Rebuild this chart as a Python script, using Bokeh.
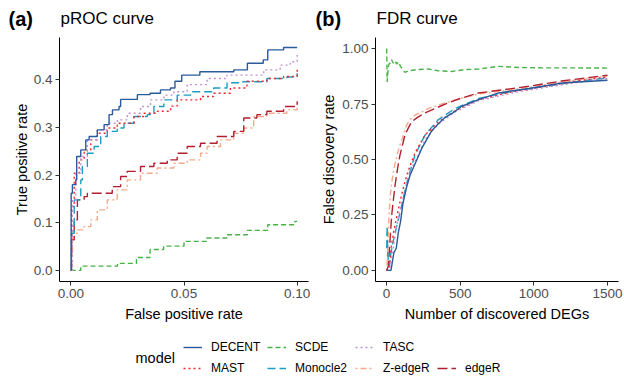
from bokeh.plotting import figure
from bokeh.layouts import column, row
from bokeh.models import (Range1d, FixedTicker, NumeralTickFormatter, Label, Legend, LegendItem)
from bokeh.embed import file_html
from bokeh.resources import INLINE

# ---------------- data ----------------
models = ["DECENT", "MAST", "SCDE", "Monocle2", "TASC", "Z-edgeR", "edgeR"]
colors = {"DECENT": "#2B5A9B", "MAST": "#F0262E", "SCDE": "#46B446", "Monocle2": "#1C9CC2",
          "TASC": "#C191D4", "Z-edgeR": "#F6A98A", "edgeR": "#B21F2F"}
dashes = {"DECENT": "solid", "MAST": "2 3", "SCDE": "5 3", "Monocle2": "8 4",
          "TASC": "2 3", "Z-edgeR": "2 3 6 3", "edgeR": "10 4"}
panel_tags = ["(a)", "(b)"]
panel_titles = ["pROC curve", "FDR curve"]

# pROC curve (false positive rate, true positive rate)
roc_fpr_DECENT = [0, 0.00015, 0.0007, 0.0022, 0.0026, 0.0044, 0.0066, 0.0081, 0.0117, 0.0147, 0.0169, 0.0184,
                  0.0213, 0.022, 0.0279, 0.0294, 0.035, 0.0396, 0.044, 0.046, 0.049, 0.057, 0.072, 0.078, 0.085,
                  0.087, 0.094, 0.1]
roc_tpr_DECENT = [0, 0.162, 0.18, 0.19, 0.239, 0.253, 0.274, 0.281, 0.295, 0.306, 0.327, 0.337,
                  0.344, 0.359, 0.359, 0.369, 0.372, 0.379, 0.383, 0.397, 0.41, 0.417, 0.421, 0.435, 0.442,
                  0.463, 0.468, 0.468]
roc_fpr_TASC = [0, 0.0007, 0.0022, 0.0044, 0.0073, 0.0117, 0.0161, 0.0206, 0.025, 0.0308, 0.0352, 0.0411,
                0.0455, 0.0514, 0.0602, 0.0690, 0.0778, 0.0852, 0.0925, 0.0969, 0.1]
roc_tpr_TASC = [0, 0.148, 0.204, 0.239, 0.274, 0.295, 0.309, 0.316, 0.33, 0.344, 0.358, 0.368,
                0.375, 0.39, 0.403, 0.41, 0.41, 0.421, 0.431, 0.438, 0.452]
roc_fpr_Monocle2 = [0, 0.0003, 0.0015, 0.0044, 0.0051, 0.0073, 0.0103, 0.0132, 0.0161, 0.0205, 0.0235, 0.0279,
                    0.0338, 0.0367, 0.0411, 0.047, 0.0529, 0.0631, 0.069, 0.0749, 0.0866, 0.0954, 0.1]
roc_tpr_Monocle2 = [0, 0.078, 0.148, 0.19, 0.218, 0.246, 0.26, 0.281, 0.292, 0.299, 0.309, 0.323,
                    0.327, 0.344, 0.358, 0.368, 0.375, 0.383, 0.394, 0.396, 0.403, 0.406, 0.414]
roc_fpr_MAST = [0, 0.0003, 0.0015, 0.0037, 0.0059, 0.0088, 0.0117, 0.0161, 0.0205, 0.0279, 0.0323, 0.0382,
                0.0441, 0.047, 0.0573, 0.0631, 0.0705, 0.0778, 0.0866, 0.094, 0.1]
roc_tpr_MAST = [0, 0.134, 0.204, 0.232, 0.253, 0.274, 0.288, 0.299, 0.309, 0.323, 0.33, 0.334,
                0.345, 0.358, 0.365, 0.372, 0.383, 0.397, 0.403, 0.407, 0.422]
roc_fpr_edgeR = [0, 0.0003, 0.0015, 0.0029, 0.0059, 0.0073, 0.0161, 0.0183, 0.022, 0.0249, 0.0308, 0.0367,
                 0.0426, 0.047, 0.0514, 0.0573, 0.0646, 0.072, 0.0764, 0.0822, 0.0866, 0.094, 0.1]
roc_tpr_edgeR = [0, 0.064, 0.106, 0.148, 0.155, 0.162, 0.162, 0.176, 0.197, 0.208, 0.218, 0.225,
                 0.232, 0.246, 0.26, 0.267, 0.281, 0.292, 0.32, 0.327, 0.334, 0.344, 0.355]
roc_fpr_ZedgeR = [0, 0.0003, 0.0007, 0.0029, 0.0059, 0.0088, 0.0117, 0.0161, 0.0205, 0.0249, 0.0308, 0.0382,
                  0.0455, 0.0514, 0.0573, 0.0602, 0.0661, 0.072, 0.0764, 0.0808, 0.0866, 0.0954, 0.1]
roc_tpr_ZedgeR = [0, 0.036, 0.078, 0.085, 0.092, 0.106, 0.127, 0.148, 0.169, 0.19, 0.204, 0.215,
                  0.225, 0.232, 0.246, 0.26, 0.274, 0.288, 0.299, 0.323, 0.33, 0.337, 0.351]
roc_fpr_SCDE = [0, 0.0044, 0.0147, 0.0206, 0.029, 0.035, 0.041, 0.05, 0.06, 0.069, 0.078, 0.087, 0.099, 0.1]
roc_tpr_SCDE = [0, 0.009, 0.009, 0.0147, 0.027, 0.044, 0.051, 0.061, 0.068, 0.075, 0.084, 0.096, 0.103, 0.103]

# FDR curve (number of discovered DEGs, false discovery rate)
fdr_n_DECENT = [1, 30, 40, 50, 66, 80, 95, 111, 134, 160, 193, 239, 307, 350, 398, 450, 511, 625, 761, 966, 1193, 1500]
fdr_v_DECENT = [0, 0, 0.04, 0.08, 0.1, 0.17, 0.22, 0.3, 0.37, 0.43, 0.48, 0.55, 0.63, 0.66, 0.69, 0.71, 0.74, 0.77,
                0.8, 0.82, 0.845, 0.857]
fdr_n_MAST = [1, 15, 25, 34, 50, 68, 85, 102, 125, 148, 193, 261, 352, 466, 625, 852, 1080, 1300, 1500]
fdr_v_MAST = [0, 0, 0.05, 0.12, 0.18, 0.24, 0.29, 0.34, 0.4, 0.45, 0.53, 0.61, 0.67, 0.72, 0.77, 0.805, 0.83,
              0.855, 0.872]
fdr_n_Monocle2 = [1, 4, 8, 12, 20, 30, 45, 57, 80, 102, 125, 148, 193, 261, 352, 466, 625, 852, 1080, 1300, 1500]
fdr_v_Monocle2 = [0.1, 0.2, 0.08, 0.05, 0.02, 0.08, 0.13, 0.165, 0.23, 0.29, 0.36, 0.42, 0.52, 0.61, 0.68, 0.73,
                  0.775, 0.808, 0.83, 0.852, 0.868]
fdr_n_TASC = [1, 20, 35, 50, 68, 90, 110, 140, 170, 200, 261, 352, 466, 625, 852, 1080, 1300, 1500]
fdr_v_TASC = [0, 0, 0.06, 0.12, 0.2, 0.27, 0.32, 0.4, 0.46, 0.5, 0.59, 0.66, 0.715, 0.765, 0.8, 0.825, 0.848, 0.865]
fdr_n_edgeR = [1, 12, 23, 35, 45, 57, 68, 80, 91, 110, 125, 150, 170, 210, 261, 330, 398, 500, 625, 800, 966,
               1200, 1500]
fdr_v_edgeR = [0, 0.02, 0.13, 0.25, 0.31, 0.38, 0.43, 0.48, 0.52, 0.57, 0.61, 0.645, 0.67, 0.69, 0.71, 0.73, 0.75,
               0.775, 0.8, 0.815, 0.83, 0.855, 0.88]
fdr_n_ZedgeR = [1, 8, 16, 25, 34, 45, 57, 75, 91, 110, 136, 160, 193, 240, 284, 398, 500, 625, 800, 966, 1200, 1500]
fdr_v_ZedgeR = [0, 0.1, 0.24, 0.33, 0.39, 0.44, 0.48, 0.53, 0.565, 0.6, 0.655, 0.68, 0.7, 0.715, 0.73, 0.755,
                0.775, 0.795, 0.81, 0.825, 0.85, 0.877]
fdr_n_SCDE = [1, 4, 10, 16, 25, 34, 45, 57, 70, 80, 95, 110, 125, 150, 200, 284, 350, 443, 525, 625, 761, 900,
              1080, 1300, 1500]
fdr_v_SCDE = [1.0, 0.85, 0.9, 0.93, 0.935, 0.95, 0.935, 0.945, 0.93, 0.94, 0.92, 0.905, 0.893, 0.9, 0.905, 0.908,
              0.9, 0.897, 0.905, 0.908, 0.92, 0.915, 0.913, 0.913, 0.912]

roc = {"DECENT": (roc_fpr_DECENT, roc_tpr_DECENT), "MAST": (roc_fpr_MAST, roc_tpr_MAST),
       "SCDE": (roc_fpr_SCDE, roc_tpr_SCDE), "Monocle2": (roc_fpr_Monocle2, roc_tpr_Monocle2),
       "TASC": (roc_fpr_TASC, roc_tpr_TASC), "Z-edgeR": (roc_fpr_ZedgeR, roc_tpr_ZedgeR),
       "edgeR": (roc_fpr_edgeR, roc_tpr_edgeR)}
fdr = {"DECENT": (fdr_n_DECENT, fdr_v_DECENT), "MAST": (fdr_n_MAST, fdr_v_MAST),
       "SCDE": (fdr_n_SCDE, fdr_v_SCDE), "Monocle2": (fdr_n_Monocle2, fdr_v_Monocle2),
       "TASC": (fdr_n_TASC, fdr_v_TASC), "Z-edgeR": (fdr_n_ZedgeR, fdr_v_ZedgeR),
       "edgeR": (fdr_n_edgeR, fdr_v_edgeR)}

draw_order = ["SCDE", "Z-edgeR", "edgeR", "Monocle2", "MAST", "TASC", "DECENT"]

FONT = "Liberation Sans"
LW = 1.4


def bare(p):
    p.axis.visible = False
    p.xgrid.visible = False
    p.ygrid.visible = False
    p.outline_line_color = None


def style(p, ylab_standoff):
    p.xgrid.visible = False
    p.ygrid.visible = False
    p.outline_line_color = None
    for ax in (p.xaxis[0], p.yaxis[0]):
        ax.axis_line_color = "black"
        ax.axis_line_width = 1
        ax.major_tick_line_color = "#333333"
        ax.major_tick_out = 4
        ax.major_tick_in = 0
        ax.minor_tick_line_color = None
        ax.major_label_text_font = FONT
        ax.major_label_text_font_size = "13.5px"
        ax.major_label_text_color = "#4D4D4D"
        ax.axis_label_text_font = FONT
        ax.axis_label_text_font_size = "14.5px"
        ax.axis_label_text_font_style = "normal"
        ax.axis_label_text_color = "black"
        ax.major_label_standoff = 3
    p.xaxis[0].axis_label_standoff = 5
    p.yaxis[0].axis_label_standoff = ylab_standoff


# ---------------- header strip with panel titles ----------------
header = figure(width=624, height=37, output_backend="svg", toolbar_location=None,
                x_range=Range1d(0, 1), y_range=Range1d(0, 1),
                min_border=0, min_border_left=0, min_border_right=0, min_border_top=0, min_border_bottom=0)
bare(header)
for tag, title, x_tag, x_title in zip(panel_tags, panel_titles, [8, 315], [60, 376]):
    header.add_layout(Label(x=x_tag, y=19, x_units="screen", y_units="screen", text=tag,
                            text_font=FONT, text_font_size="20px", text_font_style="bold",
                            text_color="black", text_baseline="middle"))
    header.add_layout(Label(x=x_title, y=19, x_units="screen", y_units="screen", text=title,
                            text_font=FONT, text_font_size="17px", text_color="black",
                            text_baseline="middle"))

# ---------------- panel a ----------------
p1 = figure(width=312, height=287, output_backend="svg", toolbar_location=None,
            x_range=Range1d(-0.005, 0.105), y_range=Range1d(-0.0233, 0.489),
            min_border_left=59, min_border_right=4, min_border_top=0, min_border_bottom=42,
            x_axis_label="False positive rate", y_axis_label="True positive rate")
style(p1, 1)
p1.xaxis.ticker = FixedTicker(ticks=[0, 0.05, 0.1])
p1.xaxis.formatter = NumeralTickFormatter(format="0.00")
p1.yaxis.ticker = FixedTicker(ticks=[0, 0.1, 0.2, 0.3, 0.4])
p1.yaxis.formatter = NumeralTickFormatter(format="0.0")
for m in draw_order:
    xs, ys = roc[m]
    p1.step(xs, ys, mode="after", line_color=colors[m], line_width=LW, line_dash=dashes[m])

# ---------------- panel b ----------------
p2 = figure(width=312, height=287, output_backend="svg", toolbar_location=None,
            x_range=Range1d(-75, 1575), y_range=Range1d(-0.05, 1.05),
            min_border_left=63, min_border_right=6, min_border_top=0, min_border_bottom=42,
            x_axis_label="Number of discovered DEGs", y_axis_label="False discovery rate")
style(p2, 2)
p2.xaxis.ticker = FixedTicker(ticks=[0, 500, 1000, 1500])
p2.xaxis.formatter = NumeralTickFormatter(format="0")
p2.yaxis.ticker = FixedTicker(ticks=[0, 0.25, 0.5, 0.75, 1.0])
p2.yaxis.formatter = NumeralTickFormatter(format="0.00")
for m in draw_order:
    xs, ys = fdr[m]
    p2.line(xs, ys, line_color=colors[m], line_width=LW, line_dash=dashes[m])

# ---------------- legend strip ----------------
# the legend strip re-uses the FDR series on a range far away from them,
# so only the legend keys are visible
leg = figure(width=624, height=53, output_backend="svg", toolbar_location=None,
             x_range=Range1d(5000, 6000), y_range=Range1d(5, 6),
             min_border=0, min_border_left=0, min_border_right=0, min_border_top=0, min_border_bottom=0)
bare(leg)
leg.add_layout(Label(x=135, y=20, x_units="screen", y_units="screen", text="model",
                     text_font=FONT, text_font_size="14.5px", text_color="black",
                     text_baseline="middle"))
legend_cols = [["DECENT", "MAST"], ["SCDE", "Monocle2"], ["TASC", "Z-edgeR"], ["edgeR"]]
col_x = [183, 267, 355, 437]
for cx, names in zip(col_x, legend_cols):
    items = []
    for m in names:
        xs, ys = fdr[m]
        r = leg.line(xs, ys, line_color=colors[m], line_width=LW, line_dash=dashes[m])
        items.append(LegendItem(label=m, renderers=[r]))
    lg = Legend(items=items, location=(cx, 0), orientation="vertical",
                glyph_width=19, glyph_height=18, label_height=18, spacing=3,
                label_standoff=9, padding=0, margin=0,
                border_line_color=None, background_fill_alpha=0,
                label_text_font=FONT, label_text_font_size="12px", label_text_color="black")
    leg.add_layout(lg)

layout = column(header, row(p1, p2), leg)
open("out.html", "w").write(file_html(layout, INLINE))
